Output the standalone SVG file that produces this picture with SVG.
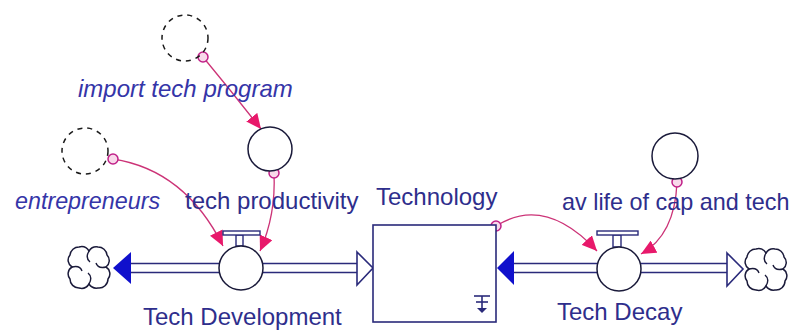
<svg xmlns="http://www.w3.org/2000/svg" width="794" height="332" viewBox="0 0 794 332">
<style>
.lbl{font-family:"Liberation Sans",Arial,sans-serif;font-size:24px;fill:#2e2e8c}
.it{font-style:italic;fill:#3535a8}
.pipe{stroke:#2a2a7a;stroke-width:1.6}
.aux{fill:#fff;stroke:#1a1a3a;stroke-width:1.5}
.ghost{fill:none;stroke:#1a1a1a;stroke-width:1.5;stroke-dasharray:5 5}
.con{fill:none;stroke:#cc3377;stroke-width:1.3}
.tap{fill:#f8d8ea;stroke:#c02088;stroke-width:1.5}
.cloud{fill:#fff;stroke:#1a1a3a;stroke-width:1.5}
</style>
<defs>
<marker id="ah" markerUnits="userSpaceOnUse" markerWidth="16" markerHeight="14" refX="15" refY="7" orient="auto">
<path d="M0,0 L15,7 L0,14 z" fill="#e8196b"/>
</marker>
<g id="cloudshape">
<path class="cloud" d="M23,7 A9 9 0 0 1 32,3 A9 9 0 0 1 41,11 A8 8 0 0 1 40,23 A8 8 0 0 1 42,35 A9 9 0 0 1 32,44 A9 9 0 0 1 23,40 A9 9 0 0 1 13,44 A9 9 0 0 1 4,35 A8 8 0 0 1 6,23 A8 8 0 0 1 4,11 A9 9 0 0 1 13,3 A9 9 0 0 1 23,7 Z"/>
<path d="M6,23 Q14,21 16,27 M40,23 Q32,25 30,19 M23,7 Q19,14 24,18 M23,40 Q27,33 22,29" fill="none" stroke="#1a1a3a" stroke-width="1.4"/>
</g>
</defs>

<g id="connectors">
<path class="con" d="M203,57 Q232,92 261,129" marker-end="url(#ah)"/>
<path class="con" d="M113,159 Q185,170 223,246" marker-end="url(#ah)"/>
<path class="con" d="M274,173 Q276,215 260,251" marker-end="url(#ah)"/>
<path class="con" d="M496,226 Q545,195 597,251" marker-end="url(#ah)"/>
<path class="con" d="M677,182 Q675,235 641,254" marker-end="url(#ah)"/>
<circle class="tap" cx="203" cy="57" r="5"/>
<circle class="tap" cx="113" cy="159" r="5"/>
<circle class="tap" cx="274" cy="173" r="5"/>
<circle class="tap" cx="496" cy="226" r="5"/>
<circle class="tap" cx="677" cy="182" r="5"/>
</g>

<g id="flows">
<line class="pipe" x1="130" y1="263.5" x2="220" y2="263.5"/>
<line class="pipe" x1="130" y1="272.5" x2="220" y2="272.5"/>
<line class="pipe" x1="262" y1="263.5" x2="358" y2="263.5"/>
<line class="pipe" x1="262" y1="272.5" x2="358" y2="272.5"/>
<path d="M113,268 L131,252 L131,284 z" fill="#1010cc"/>
<path d="M357,252 L373,268 L357,285 z" fill="#fff" stroke="#2a2a7a" stroke-width="1.6"/>
<line class="pipe" x1="513" y1="263.5" x2="598" y2="263.5"/>
<line class="pipe" x1="513" y1="272.5" x2="598" y2="272.5"/>
<line class="pipe" x1="640" y1="263.5" x2="728" y2="263.5"/>
<line class="pipe" x1="640" y1="272.5" x2="728" y2="272.5"/>
<path d="M497,268 L514,251 L514,285 z" fill="#1010cc"/>
<path d="M727,253 L743,269 L727,286 z" fill="#fff" stroke="#2a2a7a" stroke-width="1.6"/>
</g>

<g id="cloud-left"><use href="#cloudshape" transform="translate(66,244)"/></g>
<g id="cloud-right"><use href="#cloudshape" transform="translate(743,246)"/></g>

<g id="tech-development">
<rect x="236" y="235" width="7" height="11" fill="#fff" stroke="#2a2a7a" stroke-width="1.4"/>
<rect x="223" y="231" width="37" height="4" fill="#fff" stroke="#2a2a7a" stroke-width="1.4"/>
<circle class="aux" cx="241" cy="268" r="22"/>
<text class="lbl" x="143" y="325">Tech Development</text>
</g>

<g id="tech-decay">
<rect x="613" y="235" width="8" height="12" fill="#fff" stroke="#2a2a7a" stroke-width="1.4"/>
<rect x="597" y="231" width="41" height="4" fill="#fff" stroke="#2a2a7a" stroke-width="1.4"/>
<circle class="aux" cx="619" cy="269" r="22"/>
<text class="lbl" x="557" y="320">Tech Decay</text>
</g>

<g id="technology">
<rect x="373" y="225" width="123" height="97" fill="#fff" stroke="#2a2a7a" stroke-width="1.6"/>
<g stroke="#2a2a7a" stroke-width="1.6" fill="none">
<line x1="474" y1="296" x2="490" y2="296"/>
<line x1="476" y1="302" x2="488" y2="302"/>
<line x1="482" y1="296" x2="482" y2="309"/>
</g>
<path d="M477,308 L487,308 L482,313 z" fill="#2a2a7a"/>
<text class="lbl" x="376" y="205">Technology</text>
</g>

<g id="import-tech-program">
<circle class="ghost" cx="185" cy="38" r="23"/>
<text class="lbl it" x="78" y="97">import tech program</text>
</g>

<g id="entrepreneurs">
<circle class="ghost" cx="85" cy="151" r="23"/>
<text class="lbl it" x="15" y="209" style="font-size:23.3px">entrepreneurs</text>
</g>

<g id="tech-productivity">
<circle class="aux" cx="270" cy="149" r="22"/>
<text class="lbl" x="185" y="209">tech productivity</text>
</g>

<g id="av-life">
<circle class="aux" cx="675" cy="156" r="23"/>
<text class="lbl" x="562" y="210" style="font-size:23.4px">av life of cap and tech</text>
</g>
</svg>
